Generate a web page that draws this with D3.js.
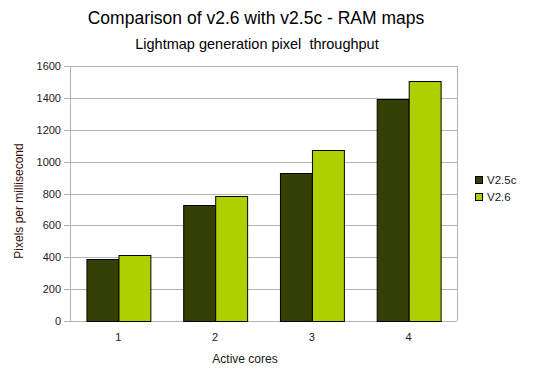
<!DOCTYPE html>
<html>
<head>
<meta charset="utf-8">
<script src="https://cdn.jsdelivr.net/npm/d3@7"></script>
<style>
  body { margin: 0; background: #fff; }
  text { font-family: "Liberation Sans", Arial, sans-serif; white-space: pre; }
</style>
</head>
<body>
<div id="chart"></div>
<script>
// Données
const cores = ["1", "2", "3", "4"];
const seriesNames = ["V2.5c", "V2.6"];
const v25c = [386, 729, 927, 1393];
const v26 = [417, 785, 1073, 1505];
const yTicks = [0, 200, 400, 600, 800, 1000, 1200, 1400, 1600];
const colors = ["#334104", "#afd000"];

const width = 538, height = 389;
const plot = { left: 70, right: 457, top: 66, bottom: 321 };

const svg = d3.select("#chart").append("svg")
  .attr("width", width).attr("height", height);

// Titres
svg.append("text")
  .attr("x", 256).attr("y", 24)
  .attr("text-anchor", "middle")
  .style("font-size", "17.5px")
  .text("Comparison of v2.6 with v2.5c - RAM maps");

svg.append("text")
  .attr("x", 257).attr("y", 49)
  .attr("text-anchor", "middle")
  .style("font-size", "14.5px")
  .text("Lightmap generation pixel  throughput");

const x = d3.scaleBand().domain(cores).range([plot.left, plot.right]).paddingInner(0.34).paddingOuter(0.17);
const xSub = d3.scaleBand().domain(seriesNames).range([0, x.bandwidth()]);
const y = d3.scaleLinear().domain([0, 1600]).range([plot.bottom, plot.top]);

// Grille
svg.append("g").selectAll("line")
  .data(yTicks)
  .join("line")
  .attr("x1", plot.left - 6).attr("x2", plot.right)
  .attr("y1", d => Math.round(y(d)) + 0.5).attr("y2", d => Math.round(y(d)) + 0.5)
  .attr("stroke", "#b3b3b3");

svg.append("line")
  .attr("x1", plot.right + 0.5).attr("x2", plot.right + 0.5)
  .attr("y1", plot.top).attr("y2", plot.bottom)
  .attr("stroke", "#b3b3b3");
svg.append("line")
  .attr("x1", plot.left + 0.5).attr("x2", plot.left + 0.5)
  .attr("y1", plot.top).attr("y2", plot.bottom + 1)
  .attr("stroke", "#b3b3b3");

// Étiquettes Y
svg.append("g").selectAll("text")
  .data(yTicks)
  .join("text")
  .attr("x", plot.left - 9).attr("y", d => y(d) + 4)
  .attr("text-anchor", "end")
  .style("font-size", "11px")
  .style("fill", "#1a1a1a")
  .text(d => d);

// Barres
const data = cores.map((c, i) => ({ core: c, values: [v25c[i], v26[i]] }));
const groups = svg.append("g").selectAll("g")
  .data(data)
  .join("g")
  .attr("transform", d => `translate(${x(d.core)},0)`);

groups.selectAll("rect")
  .data(d => d.values.map((v, j) => ({ name: seriesNames[j], value: v, j })))
  .join("rect")
  .attr("x", d => Math.round(xSub(d.name)) + 0.5)
  .attr("y", d => Math.round(y(d.value)) + 0.5)
  .attr("width", xSub.bandwidth())
  .attr("height", d => plot.bottom - Math.round(y(d.value)))
  .attr("fill", d => colors[d.j])
  .attr("stroke", "#000")
  .attr("stroke-width", 1);

// Étiquettes X
svg.append("g").selectAll("text")
  .data(cores)
  .join("text")
  .attr("x", d => x(d) + x.bandwidth() / 2)
  .attr("y", 341)
  .attr("text-anchor", "middle")
  .style("font-size", "11px")
  .style("fill", "#1a1a1a")
  .text(d => d);

// Titres des axes
svg.append("text")
  .attr("x", 245).attr("y", 363)
  .attr("text-anchor", "middle")
  .style("font-size", "12px")
  .style("fill", "#1a1a1a")
  .text("Active cores");

svg.append("text")
  .attr("transform", `translate(23,201) rotate(-90)`)
  .attr("text-anchor", "middle")
  .style("font-size", "12px")
  .style("fill", "#3a0d0d")
  .text("Pixels per millisecond");

// Légende
const legend = svg.append("g").selectAll("g")
  .data(seriesNames)
  .join("g")
  .attr("transform", (d, i) => `translate(475,${176 + i * 17})`);

legend.append("rect")
  .attr("x", 0.5).attr("y", 0.5)
  .attr("width", 7).attr("height", 7)
  .attr("fill", (d, i) => colors[i])
  .attr("stroke", "#000");

legend.append("text")
  .attr("x", 12).attr("y", 8)
  .style("font-size", "11.5px")
  .style("fill", "#1a1a1a")
  .text(d => d);
</script>
</body>
</html>
